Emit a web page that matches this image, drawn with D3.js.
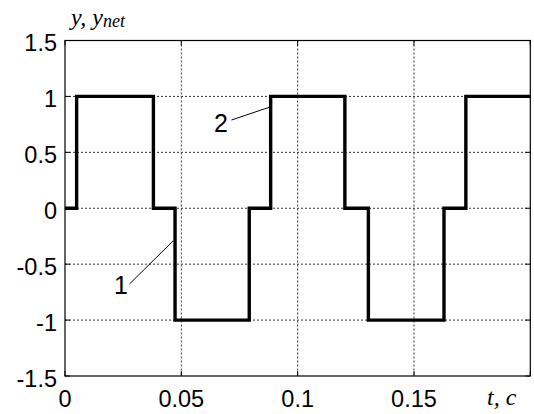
<!DOCTYPE html>
<html>
<head>
<meta charset="utf-8">
<script src="https://cdn.jsdelivr.net/npm/d3@7"></script>
<style>
  body { margin: 0; background: #fff; }
  svg { display: block; }
  .tick-label { font-family: "Liberation Sans", Arial, sans-serif; font-size: 23.5px; fill: #000; }
  .ax-label { font-family: "Liberation Serif", "Times New Roman", serif; font-style: italic; fill: #000; }
</style>
</head>
<body>
<div id="chart"></div>
<script>
// switching instants (s) and the level held after each one
const times = [0, 0.005, 0.038, 0.0473, 0.0792, 0.0884, 0.1203, 0.1304, 0.1629, 0.1723, 0.2];
const levels = [0, 1, 0, -1, 0, 1, 0, -1, 0, 1, 1];

const xTicks = [0, 0.05, 0.1, 0.15];
const xTickLabels = ["0", "0.05", "0.1", "0.15"];
const yTicks = [-1.5, -1, -0.5, 0, 0.5, 1, 1.5];
const yTickLabels = ["-1.5", "-1", "-0.5", "0", "0.5", "1", "1.5"];

const width = 534, height = 414;
const margin = {top: 40.5, right: 3.7, bottom: 38, left: 65};

const x = d3.scaleLinear().domain([0, 0.2]).range([margin.left, width - margin.right]);
const y = d3.scaleLinear().domain([-1.5, 1.5]).range([height - margin.bottom, margin.top]);

const svg = d3.select("#chart").append("svg")
    .attr("width", width)
    .attr("height", height);

// Grid
const grid = svg.append("g")
    .attr("stroke", "#333")
    .attr("stroke-width", 1)
    .attr("stroke-dasharray", "2,2");
grid.selectAll("line.v")
    .data(xTicks.filter(d => d > 0))
    .join("line")
    .attr("x1", d => x(d)).attr("x2", d => x(d))
    .attr("y1", y(1.5)).attr("y2", y(-1.5));
grid.selectAll("line.h")
    .data(yTicks.filter(d => d > -1.5 && d < 1.5))
    .join("line")
    .attr("x1", x(0)).attr("x2", x(0.2))
    .attr("y1", d => y(d)).attr("y2", d => y(d));

// Inner ticks on all four sides
const ticks = svg.append("g").attr("stroke", "#000").attr("stroke-width", 1);
xTicks.concat([0.2]).forEach(d => {
    ticks.append("line").attr("x1", x(d)).attr("x2", x(d)).attr("y1", y(-1.5)).attr("y2", y(-1.5) - 5);
    ticks.append("line").attr("x1", x(d)).attr("x2", x(d)).attr("y1", y(1.5)).attr("y2", y(1.5) + 5);
});
yTicks.forEach(d => {
    ticks.append("line").attr("x1", x(0)).attr("x2", x(0) + 5).attr("y1", y(d)).attr("y2", y(d));
    ticks.append("line").attr("x1", x(0.2)).attr("x2", x(0.2) - 5).attr("y1", y(d)).attr("y2", y(d));
});

// Frame
svg.append("rect")
    .attr("x", x(0)).attr("y", y(1.5))
    .attr("width", x(0.2) - x(0)).attr("height", y(-1.5) - y(1.5))
    .attr("fill", "none").attr("stroke", "#000").attr("stroke-width", 1.2);

// Tick labels
svg.selectAll("text.xt")
    .data(xTicks)
    .join("text")
    .attr("class", "tick-label")
    .attr("x", d => x(d))
    .attr("y", y(-1.5) + 31)
    .attr("text-anchor", "middle")
    .text((d, i) => xTickLabels[i]);

svg.selectAll("text.yt")
    .data(yTicks)
    .join("text")
    .attr("class", "tick-label")
    .attr("x", 57)
    .attr("y", d => y(d) + 10.5)
    .attr("text-anchor", "end")
    .text((d, i) => yTickLabels[i]);

// Signal
const line = d3.line()
    .x((d, i) => x(times[i]))
    .y(d => y(d))
    .curve(d3.curveStepAfter);

svg.append("path")
    .datum(levels)
    .attr("fill", "none")
    .attr("stroke", "#000")
    .attr("stroke-width", 3.4)
    .attr("stroke-linejoin", "miter")
    .attr("d", line);

// Curve callouts
svg.append("line")
    .attr("x1", 129.5).attr("y1", 284).attr("x2", 173.5).attr("y2", 240.5)
    .attr("stroke", "#000").attr("stroke-width", 1);
svg.append("text").attr("class", "tick-label").style("font-size", "25px")
    .attr("x", 121).attr("y", 293.5).attr("text-anchor", "middle").text("1");

svg.append("line")
    .attr("x1", 231.5).attr("y1", 120).attr("x2", 270).attr("y2", 107)
    .attr("stroke", "#000").attr("stroke-width", 1);
svg.append("text").attr("class", "tick-label").style("font-size", "25px")
    .attr("x", 221).attr("y", 131.5).attr("text-anchor", "middle").text("2");

// Axis titles
const yl = svg.append("text").attr("class", "ax-label")
    .attr("x", 71).attr("y", 25).style("font-size", "24px");
yl.append("tspan").text("y, y");
yl.append("tspan").attr("dy", 2).style("font-size", "18px").text("net");

svg.append("text").attr("class", "ax-label")
    .attr("x", 487).attr("y", 405).style("font-size", "24px")
    .text("t, c");
</script>
</body>
</html>
